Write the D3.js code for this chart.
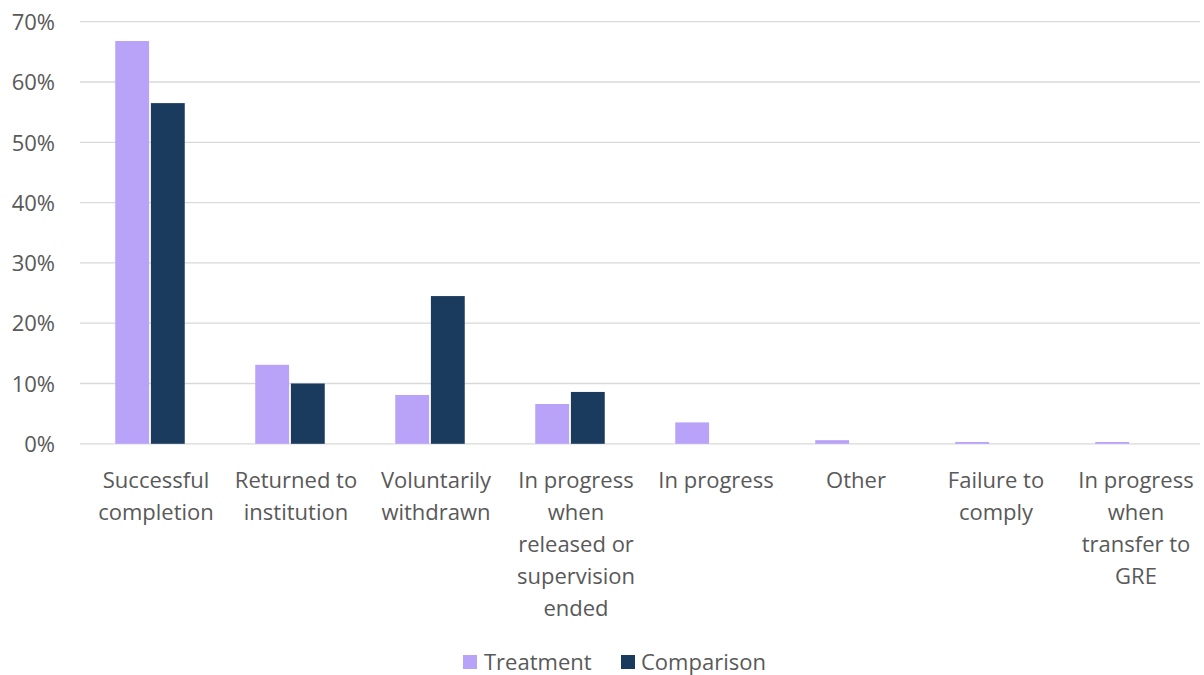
<!DOCTYPE html>
<html>
<head>
<meta charset="utf-8">
<script src="https://cdn.jsdelivr.net/npm/d3@7"></script>
<style>
  html, body { margin: 0; padding: 0; background: #fff; }
  svg { display: block; }
  svg text { font-family: "Open Sans", "Noto Sans", sans-serif; }
</style>
</head>
<body>
<svg id="chart" width="1204" height="675"></svg>
<script>
// Programme outcome shares by group
const categories = [
  "Successful completion",
  "Returned to institution",
  "Voluntarily withdrawn",
  "In progress when released or supervision ended",
  "In progress",
  "Other",
  "Failure to comply",
  "In progress when transfer to GRE"
];
const treatment  = [66.8, 13.1, 8.1, 6.6, 3.55, 0.6, 0.3, 0.3];
const comparison = [56.5, 10.0, 24.5, 8.6, 0, 0, 0, 0];
const seriesNames = ["Treatment", "Comparison"];
const yTicks = [0, 10, 20, 30, 40, 50, 60, 70];

const colors = { Treatment: "#b9a3f9", Comparison: "#1b3b5e" };
const textColor = "#595959";
const fontSize = "22px";

const svg = d3.select("#chart");
const plotLeft = 80, plotRight = 1200, plotTop = 21.7, plotBottom = 443.8;

const x = d3.scaleBand().domain(categories).range([plotLeft, plotRight]).paddingInner(0).paddingOuter(0);
const y = d3.scaleLinear().domain([0, 70]).range([plotBottom, plotTop]);

// Gridlines
svg.append("g")
  .selectAll("line")
  .data(yTicks)
  .join("line")
  .attr("x1", plotLeft).attr("x2", plotRight)
  .attr("y1", d => y(d)).attr("y2", d => y(d))
  .attr("stroke", "#d9d9d9").attr("stroke-width", 1.3);

// Y axis labels
const yAxis = d3.axisLeft(y).tickValues(yTicks).tickFormat(d => d + "%").tickSize(0).tickPadding(0);
const yg = svg.append("g").attr("transform", `translate(${plotLeft - 25},0)`).call(yAxis);
yg.attr("font-family", null).attr("font-size", null);
yg.select(".domain").remove();
yg.selectAll("text").attr("fill", textColor).style("font-size", fontSize)
  .attr("dy", "0.35em");

// Bars
const barW = 33, gap = 3.5;
const inner = d3.scaleBand().domain(seriesNames)
  .range([-(barW + gap / 2), barW + gap / 2]).paddingInner(gap / (barW * 2 + gap));

const rows = categories.map((c, i) => ({ cat: c, Treatment: treatment[i], Comparison: comparison[i] }));
const groups = svg.append("g").selectAll("g")
  .data(rows).join("g")
  .attr("transform", d => `translate(${x(d.cat) + x.bandwidth() / 2},0)`);

groups.selectAll("rect")
  .data(d => seriesNames.map(s => ({ s, v: d[s] })).filter(e => e.v > 0))
  .join("rect")
  .attr("x", e => inner(e.s))
  .attr("width", inner.bandwidth())
  .attr("y", e => y(e.v))
  .attr("height", e => y(0) - y(e.v))
  .attr("fill", e => colors[e.s]);

// Category labels, wrapped to the band width
const catG = svg.append("g");
const maxW = 132;
categories.forEach(c => {
  const cx = x(c) + x.bandwidth() / 2 + 6;
  const t = catG.append("text")
    .attr("x", cx)
    .attr("y", 488)
    .attr("text-anchor", "middle")
    .attr("fill", textColor)
    .style("font-size", fontSize);
  const words = c.split(" ");
  let line = [];
  let tspan = t.append("tspan").attr("x", cx).attr("dy", 0);
  words.forEach(w => {
    line.push(w);
    tspan.text(line.join(" "));
    if (tspan.node().getComputedTextLength() > maxW && line.length > 1) {
      line.pop();
      tspan.text(line.join(" "));
      line = [w];
      tspan = t.append("tspan").attr("x", cx).attr("dy", 32).text(w);
    }
  });
});

// Legend
const legend = svg.append("g");
const legendItems = [
  { name: "Treatment", sx: 463, tx: 484 },
  { name: "Comparison", sx: 621, tx: 641 }
];
legendItems.forEach(l => {
  legend.append("rect").attr("x", l.sx).attr("y", 655).attr("width", 14).attr("height", 14)
    .attr("fill", colors[l.name]);
  legend.append("text").attr("x", l.tx).attr("y", 670)
    .attr("fill", textColor).style("font-size", fontSize).text(l.name);
});
</script>
</body>
</html>
